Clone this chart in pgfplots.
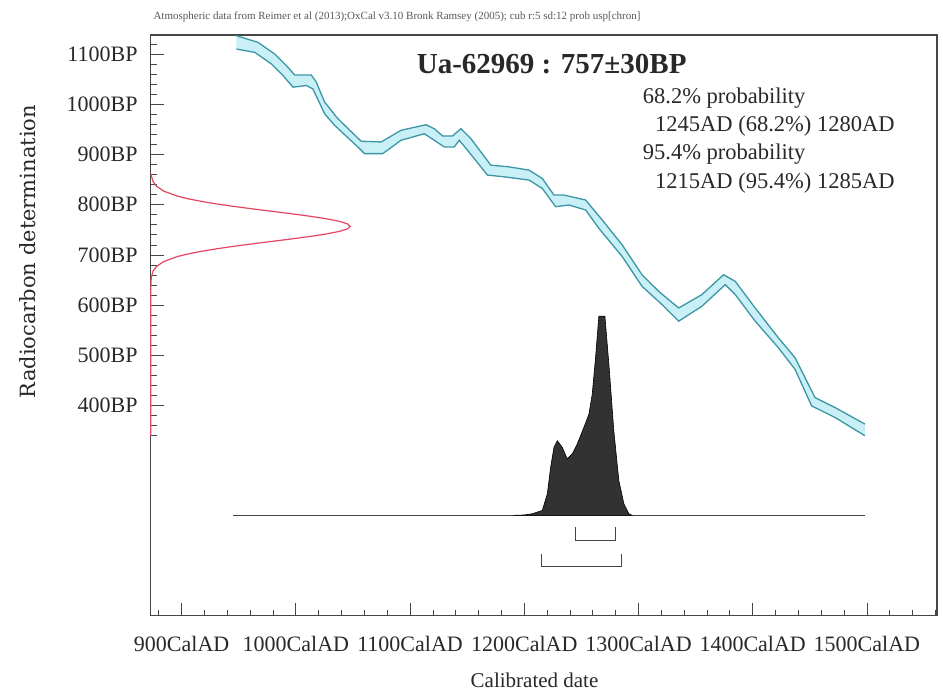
\documentclass[border=0pt]{standalone}
\usepackage{fontspec}
\setmainfont{Liberation Serif}
\newfontfamily\labelfont{DejaVu Serif}
\usepackage{pgfplots}
\pgfplotsset{compat=1.18}
\definecolor{curveedge}{RGB}{60,150,165}
\definecolor{curvefill}{RGB}{200,240,246}
\definecolor{gaussred}{RGB}{228,70,95}
\definecolor{distfill}{RGB}{50,50,50}
\definecolor{axisgray}{RGB}{70,70,70}
\definecolor{textgray}{RGB}{40,40,40}
\begin{document}
\begin{tikzpicture}
\useasboundingbox (0,0) rectangle (943pt,695pt);
\fill[white] (0,0) rectangle (943pt,695pt);
\begin{axis}[
  at={(150.7pt,79.3pt)}, anchor=south west,
  scale only axis, width=787pt, height=581pt,
  xmin=872.9, xmax=1562, ymin=-18, ymax=1138.5,
  axis lines=box,
  axis line style={axisgray, line width=1pt},
  tick align=inside, tick pos=left,
  major tick length=13pt, minor tick length=6pt,
  every tick/.style={axisgray, line width=0.8pt},
  xtick={900,1000,1100,1200,1300,1400,1500},
  xticklabels={900CalAD,1000CalAD,1100CalAD,1200CalAD,1300CalAD,1400CalAD,1500CalAD},
  minor xtick={880,900,...,1560},
  ytick={400,500,600,700,800,900,1000,1100},
  yticklabels={400BP,500BP,600BP,700BP,800BP,900BP,1000BP,1100BP},
  minor ytick={340,360,...,1120},
  xticklabel style={font=\fontsize{22}{24}\selectfont, text=textgray, anchor=base, yshift=-36pt},
  yticklabel style={font=\fontsize{22}{24}\selectfont, text=textgray, anchor=east, inner sep=0pt, xshift=-13pt},
  xlabel={Calibrated date},
  xlabel style={font=\fontsize{21}{24}\selectfont, text=textgray, at={(axis description cs:0.4877,0)}, anchor=base, inner sep=0pt, yshift=-72pt},
  ylabel={Radiocarbon determination},
  ylabel style={font=\labelfont\fontsize{21}{24}\selectfont, text=textgray, at={(axis description cs:-0.1468,0.6268)}, anchor=base, rotate=0},
  clip=false,
]
% frame: top and right edges
\addplot[axisgray, line width=1.2pt] coordinates {(872.9,1137.8) (1561.3,1137.8) (1561.3,-18)};
% calibration curve band (1 sigma envelope)
\addplot[fill=curvefill, draw=none] coordinates {
(948.0,1136.5) (966.9,1123.2) (981.5,1100.0) (991.7,1077.0) (999.0,1058.4) (1013.5,1058.4) (1017.9,1043.9) (1025.2,1004.3) (1036.8,971.2) (1057.2,926.4) (1074.7,925.0) (1092.1,948.2) (1114.0,959.3) (1121.2,951.3) (1128.5,936.9) (1137.2,936.9) (1144.5,951.3) (1153.3,931.5) (1170.7,878.8) (1186.7,875.4) (1204.2,868.9) (1215.8,852.2) (1226.0,819.3) (1234.8,819.3) (1253.7,809.4) (1268.2,769.8) (1285.7,720.2) (1303.1,660.7) (1317.7,627.6) (1335.2,594.5) (1355.5,621.1) (1374.5,660.7) (1384.7,647.5) (1402.2,594.5) (1422.5,535.1) (1437.1,495.4) (1454.6,416.1) (1472.1,396.3) (1498.3,363.4)
(1498.3,340.2) (1472.1,376.5) (1451.6,399.7) (1437.1,472.4) (1422.5,515.3) (1402.2,568.2) (1384.7,621.1) (1376.0,640.9) (1355.5,597.9) (1335.2,568.2) (1320.6,601.3) (1303.1,637.6) (1285.7,697.0) (1265.3,753.1) (1253.7,789.6) (1239.1,799.5) (1227.5,796.1) (1215.8,832.4) (1204.2,849.1) (1182.4,855.6) (1167.8,859.0) (1150.3,908.5) (1143.1,928.3) (1138.7,915.1) (1130.0,915.1) (1121.2,928.3) (1112.5,941.4) (1092.1,928.3) (1076.1,901.8) (1060.1,901.8) (1054.2,915.1) (1033.9,958.1) (1025.2,981.1) (1014.9,1030.6) (1009.2,1037.4) (997.5,1034.0) (988.7,1057.2) (978.6,1080.2) (964.0,1103.4) (948.0,1109.9)
} --cycle;
\addplot[curveedge, line width=1.3pt] coordinates {
(948.0,1136.5) (966.9,1123.2) (981.5,1100.0) (991.7,1077.0) (999.0,1058.4) (1013.5,1058.4) (1017.9,1043.9) (1025.2,1004.3) (1036.8,971.2) (1057.2,926.4) (1074.7,925.0) (1092.1,948.2) (1114.0,959.3) (1121.2,951.3) (1128.5,936.9) (1137.2,936.9) (1144.5,951.3) (1153.3,931.5) (1170.7,878.8) (1186.7,875.4) (1204.2,868.9) (1215.8,852.2) (1226.0,819.3) (1234.8,819.3) (1253.7,809.4) (1268.2,769.8) (1285.7,720.2) (1303.1,660.7) (1317.7,627.6) (1335.2,594.5) (1355.5,621.1) (1374.5,660.7) (1384.7,647.5) (1402.2,594.5) (1422.5,535.1) (1437.1,495.4) (1454.6,416.1) (1472.1,396.3) (1498.3,363.4)
};
\addplot[curveedge, line width=1.3pt] coordinates {
(948.0,1109.9) (964.0,1103.4) (978.6,1080.2) (988.7,1057.2) (997.5,1034.0) (1009.2,1037.4) (1014.9,1030.6) (1025.2,981.1) (1033.9,958.1) (1054.2,915.1) (1060.1,901.8) (1076.1,901.8) (1092.1,928.3) (1112.5,941.4) (1121.2,928.3) (1130.0,915.1) (1138.7,915.1) (1143.1,928.3) (1150.3,908.5) (1167.8,859.0) (1182.4,855.6) (1204.2,849.1) (1215.8,832.4) (1227.5,796.1) (1239.1,799.5) (1253.7,789.6) (1265.3,753.1) (1285.7,697.0) (1303.1,637.6) (1320.6,601.3) (1335.2,568.2) (1355.5,597.9) (1376.0,640.9) (1384.7,621.1) (1402.2,568.2) (1422.5,515.3) (1437.1,472.4) (1451.6,399.7) (1472.1,376.5) (1498.3,340.2)
};
% radiocarbon date N(757,30) on the y axis
\addplot[gaussred, line width=1.2pt] coordinates {
(872.9,340) (872.9,600) (873.1,647) (873.6,657) (874.8,667) (877.9,677) (884.4,687) (896.5,697) (905.4,702) (916.5,707) (929.6,712) (944.7,717) (961.3,722) (978.9,727) (996.3,732) (1012.8,737) (1027.1,742) (1038.2,747) (1045.2,752) (1047.6,757) (1045.2,762) (1038.2,767) (1027.1,772) (1012.8,777) (996.3,782) (978.9,787) (961.3,792) (944.7,797) (929.6,802) (916.5,807) (905.4,812) (896.5,817) (884.4,827) (877.9,837) (874.8,847) (873.6,857) (872.9,860)
};
% baseline of calibrated distribution
\addplot[axisgray, line width=1pt] coordinates {(945,181.7) (1498,181.7)};
% calibrated distribution
\addplot[fill=distfill, draw=black, line width=0.6pt] coordinates {
(1190,181.7) (1200,182.5) (1207.1,185.0) (1215.8,191.6) (1220.2,224.7) (1223.1,277.4) (1226.0,317.0) (1228.9,330.3) (1233.3,317.0) (1237.6,294.0) (1242.0,304.0) (1246.4,323.8) (1252.2,356.7) (1256.6,383.2) (1259.5,422.9) (1262.4,495.4) (1265.3,578.1) (1270.6,578.1) (1274.1,482.4) (1278.4,350.1) (1282.8,251.0) (1287.2,204.9) (1291.5,185.0) (1294.4,181.7)
} --cycle;
% 68.2% and 95.4% ranges
\addplot[axisgray, line width=1pt] coordinates {(1245,158.5) (1245,132.1) (1280,132.1) (1280,158.5)};
\addplot[axisgray, line width=1pt] coordinates {(1215,105.7) (1215,80.6) (1285,80.6) (1285,105.7)};
\end{axis}
\node[anchor=base west, text=black!65, font=\fontsize{11}{12}\selectfont] at (150pt,675pt)
  {Atmospheric data from Reimer et al (2013);OxCal v3.10 Bronk Ramsey (2005); cub r:5 sd:12 prob usp[chron]};
\node[anchor=base west, text=textgray, font=\bfseries\fontsize{29}{32}\selectfont] at (413.3pt,621pt) {Ua-62969 : 757±30BP};
\begin{scope}[every node/.style={anchor=base west, text=textgray, font=\fontsize{22.5}{24}\selectfont, inner sep=0pt}]
\node at (642.7pt,591pt) {68.2\% probability};
\node at (655pt,563.3pt) {1245AD (68.2\%) 1280AD};
\node at (642.7pt,535pt) {95.4\% probability};
\node at (655pt,506pt) {1215AD (95.4\%) 1285AD};
\end{scope}
\end{tikzpicture}
\end{document}
